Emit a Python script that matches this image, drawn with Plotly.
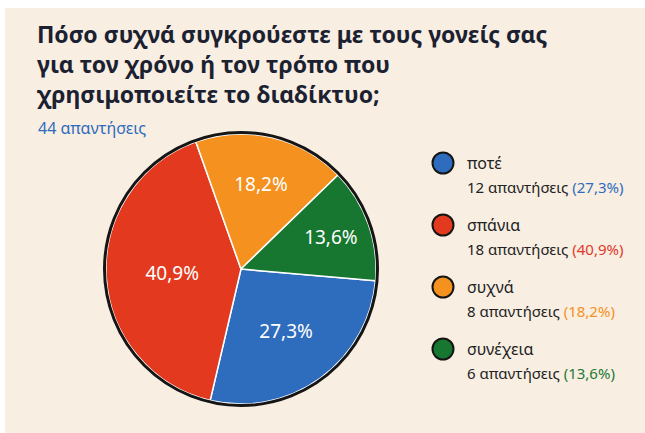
import plotly.graph_objects as go

# ---- data ----
title_lines = ["Πόσο συχνά συγκρούεστε με τους γονείς σας",
               "για τον χρόνο ή τον τρόπο που",
               "χρησιμοποιείτε το διαδίκτυο;"]
labels = ["ποτέ", "σπάνια", "συχνά", "συνέχεια"]
counts = [12, 18, 8, 6]
colors = ["#2E6CBD", "#E2391F", "#F5911E", "#17762F"]
text_colors = ["#2E6CBD", "#E23A2A", "#F5911E", "#1E7A35"]
total = sum(counts)

W, H = 645, 433
cx, cy, R = 241, 269, 135  # pie centre / radius in px
CREAM = "#F8EEE2"

def px(x):
    return x / W

def py(y):
    return (H - y) / H

fig = go.Figure()
fig.add_trace(go.Pie(
    labels=labels, values=counts, sort=False, direction="clockwise",
    rotation=95,
    marker=dict(colors=colors, line=dict(color="white", width=1.5)),
    texttemplate="%{percent:.1%}", textposition="inside",
    insidetextorientation="horizontal",
    textfont=dict(color="white", size=19, family="Noto Sans"),
    domain=dict(x=[px(cx - R), px(cx + R)], y=[py(cy + R), py(cy - R)]),
    showlegend=False, hoverinfo="label+value+percent",
))

shapes = [
    dict(type="rect", xref="paper", yref="paper", x0=px(5), x1=1, y0=0, y1=py(8),
         fillcolor=CREAM, line=dict(width=0), layer="below"),
    dict(type="circle", xref="paper", yref="paper",
         x0=px(cx - R - 1.5), x1=px(cx + R + 1.5), y0=py(cy + R + 1.5), y1=py(cy - R - 1.5),
         line=dict(color="#151515", width=3)),
]

annotations = [
    dict(text="<br>".join(title_lines), x=px(35), y=py(16), xref="paper", yref="paper",
         xanchor="left", yanchor="top", align="left", showarrow=False,
         font=dict(family="Noto Sans", size=23, color="#1B2130", weight="bold")),
    dict(text=f"{total} απαντήσεις", x=px(36), y=py(128), xref="paper", yref="paper",
         xanchor="left", yanchor="middle", align="left", showarrow=False,
         font=dict(family="Noto Sans", size=16, color="#2E6CBD")),
]

row_y0, row_dy = 163, 62
for i, (lab, c) in enumerate(zip(labels, counts)):
    y = row_y0 + i * row_dy
    shapes.append(dict(type="circle", xref="paper", yref="paper",
                       x0=px(443 - 10.5), x1=px(443 + 10.5), y0=py(y + 10.5), y1=py(y - 10.5),
                       fillcolor=colors[i], line=dict(color="#151515", width=2)))
    annotations.append(dict(text=lab, x=px(465), y=py(y), xref="paper", yref="paper",
                            xanchor="left", yanchor="middle", showarrow=False,
                            font=dict(family="Noto Sans", size=16, color="#222222")))
    pct = f"{c / total * 100:.1f}".replace(".", ",")
    annotations.append(dict(
        text=f"{c} απαντήσεις <span style='color:{text_colors[i]}'>({pct}%)</span>",
        x=px(465), y=py(y + 24), xref="paper", yref="paper",
        xanchor="left", yanchor="middle", showarrow=False,
        font=dict(family="Noto Sans", size=15, color="#222222")))

fig.update_layout(
    width=W, height=H, margin=dict(l=0, r=0, t=0, b=0),
    paper_bgcolor="white", plot_bgcolor="white",
    separators=",.",
    shapes=shapes, annotations=annotations,
)

fig.write_html(
    "out.html", config={"displayModeBar": False},
    post_script=("document.body.style.margin='0';"
                 "document.body.style.overflow='hidden';"
                 f"document.body.style.background='{CREAM}';"
                 f"document.documentElement.style.background='{CREAM}';"),
)
